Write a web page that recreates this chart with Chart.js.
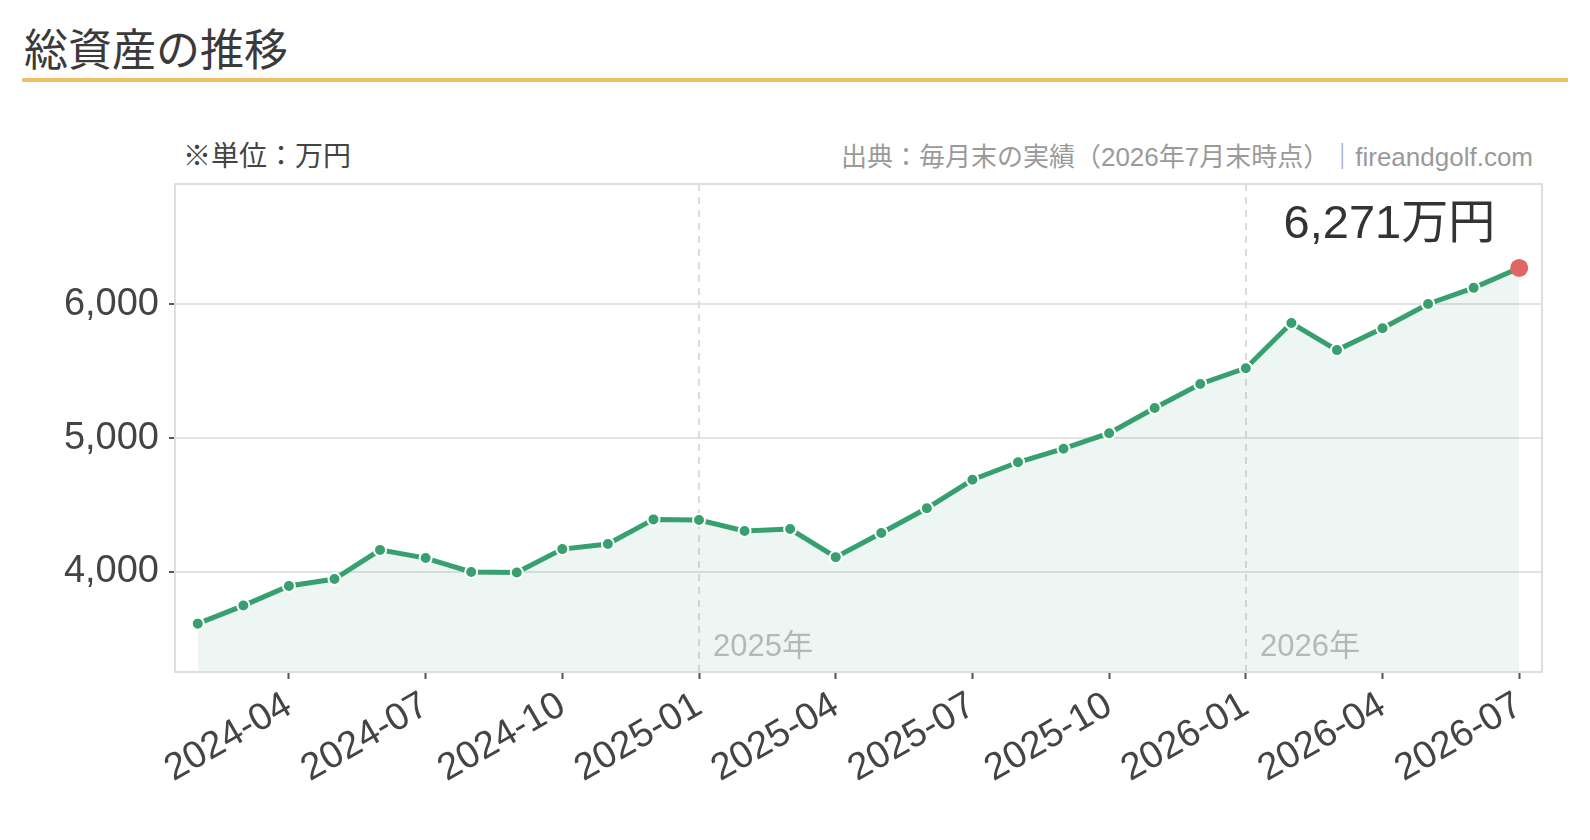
<!DOCTYPE html>
<html lang="ja">
<head>
<meta charset="utf-8">
<script src="https://cdn.jsdelivr.net/npm/chart.js@4.4.1/dist/chart.umd.min.js"></script>
<style>
  html, body { margin: 0; padding: 0; background: #fff; }
  body { width: 1590px; height: 840px; position: relative; overflow: hidden;
         font-family: "Liberation Sans", "Noto Sans CJK JP", sans-serif; }
  #title { position: absolute; left: 24px; top: 23px; font-size: 44px; line-height: 56px; color: #3a3a3a; }
  #rule { position: absolute; left: 22px; top: 78px; width: 1546px; height: 4px; background: #f3c06b; }
  #unit { position: absolute; left: 183px; top: 138px; font-size: 28px; line-height: 38px; color: #444; }
  #source { position: absolute; right: 57px; top: 139px; font-size: 26px; line-height: 36px; color: #9a9a9a; }
  #wrap { position: absolute; left: 0; top: 0; width: 1590px; height: 840px; }
</style>
</head>
<body>
<div id="title">総資産の推移</div>
<div id="rule"></div>
<div id="unit">※単位：万円</div>
<div id="source">出典：毎月末の実績（2026年7月末時点）｜fireandgolf.com</div>
<div id="wrap"><canvas id="assetChart"></canvas></div>
<script>
// months (end of month) and total assets in 万円
const months = [
  '2024-02', '2024-03', '2024-04', '2024-05', '2024-06', '2024-07',
  '2024-08', '2024-09', '2024-10', '2024-11', '2024-12', '2025-01',
  '2025-02', '2025-03', '2025-04', '2025-05', '2025-06', '2025-07',
  '2025-08', '2025-09', '2025-10', '2025-11', '2025-12', '2026-01',
  '2026-02', '2026-03', '2026-04', '2026-05', '2026-06', '2026-07'
];
const totalAssets = [
  3613, 3748, 3895, 3946, 4164, 4103,
  3999, 3995, 4170, 4208, 4392, 4387,
  4305, 4320, 4110, 4290, 4475, 4688,
  4819, 4920, 5036, 5224, 5404, 5522,
  5859, 5657, 5820, 6002, 6122, 6271
];
const yTicks = [4000, 5000, 6000];
const tickMonths = ['01', '04', '07', '10'];

const green = '#38a06e';
const fontStack = '"Liberation Sans", "Noto Sans CJK JP"';
const lastIdx = totalAssets.length - 1;

// plot frame, year separators and latest value label
const decorations = {
  id: 'decorations',
  beforeDatasetsDraw(chart) {
    const { ctx, chartArea: a, scales: { x } } = chart;
    ctx.save();
    ctx.strokeStyle = '#dcdcdc';
    ctx.lineWidth = 2;
    ctx.setLineDash([7, 6]);
    ctx.font = '31px ' + fontStack;
    ctx.fillStyle = '#bdbdbd';
    ctx.textBaseline = 'alphabetic';
    months.forEach((m, i) => {
      if (!m.endsWith('-01') || i === 0) return;
      const px = Math.round(x.getPixelForValue(i));
      ctx.beginPath();
      ctx.moveTo(px, a.top);
      ctx.lineTo(px, a.bottom);
      ctx.stroke();
      ctx.fillText(m.slice(0, 4) + '年', px + 14, a.bottom - 16);
    });
    ctx.restore();
  },
  afterDatasetsDraw(chart) {
    const { ctx, chartArea: a, scales: { x, y } } = chart;
    ctx.save();
    ctx.strokeStyle = '#dedede';
    ctx.lineWidth = 2;
    ctx.strokeRect(a.left, a.top, a.right - a.left, a.bottom - a.top);

    const px = x.getPixelForValue(lastIdx);
    const py = y.getPixelForValue(totalAssets[lastIdx]);
    ctx.font = '47px ' + fontStack;
    ctx.fillStyle = '#333';
    ctx.textAlign = 'right';
    ctx.fillText(totalAssets[lastIdx].toLocaleString('ja-JP') + '万円', px - 24, py - 30);
    ctx.restore();
  }
};

const ctx = document.getElementById('assetChart').getContext('2d');
new Chart(ctx, {
  type: 'line',
  data: {
    labels: months,
    datasets: [{
      data: totalAssets,
      borderColor: green,
      borderWidth: 5,
      backgroundColor: 'rgba(58, 160, 110, 0.09)',
      fill: 'start',
      tension: 0,
      pointRadius: (c) => c.dataIndex === lastIdx ? 9 : 6,
      pointBackgroundColor: (c) => c.dataIndex === lastIdx ? '#e06565' : green,
      pointBorderColor: '#fff',
      pointBorderWidth: (c) => c.dataIndex === lastIdx ? 0 : 2
    }]
  },
  options: {
    responsive: true,
    maintainAspectRatio: false,
    animation: false,
    layout: { padding: { top: 184, right: 48, left: 0, bottom: 0 } },
    plugins: {
      legend: { display: false },
      tooltip: { enabled: false }
    },
    scales: {
      x: {
        type: 'category',
        offset: true,
        border: { display: false },
        grid: { drawOnChartArea: false, tickLength: 7, tickColor: '#555', tickWidth: 2 },
        afterBuildTicks(scale) {
          scale.ticks = scale.ticks.filter(t => tickMonths.includes(months[t.value].slice(5)));
        },
        afterFit(scale) { scale.height = 168; },
        ticks: {
          autoSkip: false,
          minRotation: 30,
          maxRotation: 30,
          padding: 4,
          color: '#444',
          font: { family: fontStack, size: 38 },
          callback: (v) => months[v]
        }
      },
      y: {
        min: Math.min(...totalAssets) * 0.9,
        max: Math.max(...totalAssets) * 1.1,
        border: { display: false },
        grid: { color: '#e3e3e3', lineWidth: 2, tickLength: 6, tickColor: '#555', tickWidth: 2 },
        afterBuildTicks(scale) {
          scale.ticks = yTicks.map(v => ({ value: v }));
        },
        afterFit(scale) { scale.width = 175; },
        ticks: {
          padding: 10,
          color: '#444',
          font: { family: fontStack, size: 38 },
          callback: (v) => v.toLocaleString('en-US')
        }
      }
    }
  },
  plugins: [decorations]
});
</script>
</body>
</html>
